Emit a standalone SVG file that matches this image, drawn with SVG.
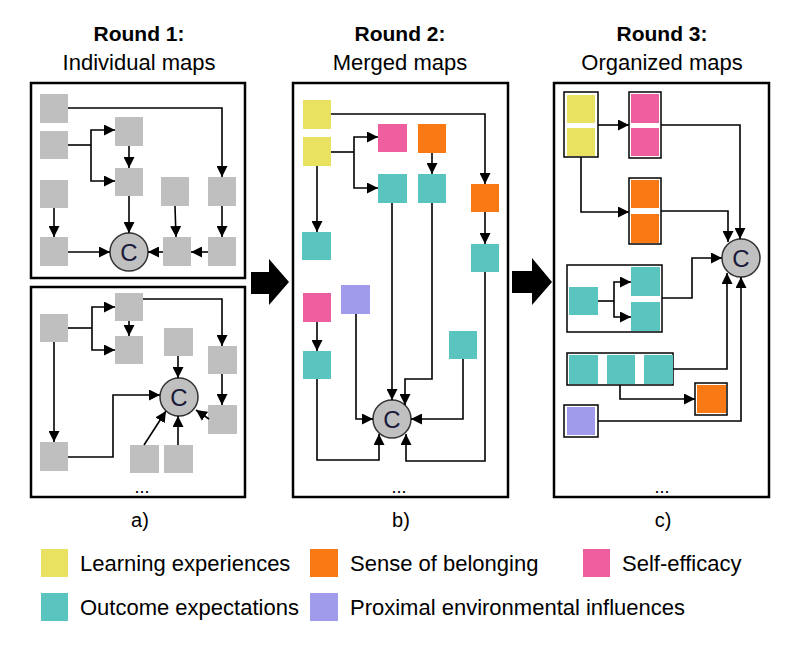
<svg xmlns="http://www.w3.org/2000/svg" width="805" height="647" viewBox="0 0 805 647">
<style>
text{font-family:"Liberation Sans",Arial,sans-serif;fill:#000}
.t1{font-size:21px;font-weight:bold;text-anchor:middle}
.t2{font-size:22px;text-anchor:middle}
.lg{font-size:22px}
.lab{font-size:20px;text-anchor:middle}
.dots{font-size:18px;text-anchor:middle}
.frame{fill:none;stroke:#000;stroke-width:2.5}
.g{fill:#bfbfbf}
.y{fill:#e9e160}
.o{fill:#f97a14}
.p{fill:#ef5e9e}
.tl{fill:#5ac4be}
.pu{fill:#a09bea}
.cont{fill:#fff;stroke:#000;stroke-width:1.5}
.cc{fill:#c0c0c0;stroke:#333;stroke-width:1.5}
.ct{font-size:24px;text-anchor:middle;fill:#1a1a3a}
.e{fill:none;stroke:#000;stroke-width:1.6}
.ea{fill:none;stroke:#000;stroke-width:1.6;marker-end:url(#ah)}
</style>
<defs>
<marker id="ah" viewBox="0 0 10 10" refX="10" refY="5" markerWidth="11" markerHeight="11" markerUnits="userSpaceOnUse" orient="auto"><path d="M0,0 L10,5 L0,10 z" fill="#000"/></marker>
</defs>

<g id="titles">
<text class="t1" x="139" y="41">Round 1:</text>
<text class="t2" x="139" y="70">Individual maps</text>
<text class="t1" x="400" y="41">Round 2:</text>
<text class="t2" x="400" y="70">Merged maps</text>
<text class="t1" x="662" y="41">Round 3:</text>
<text class="t2" x="662" y="70">Organized maps</text>
</g>

<g id="frames">
<rect class="frame" x="31" y="83" width="214" height="195"/>
<rect class="frame" x="31" y="287" width="214" height="210"/>
<rect class="frame" x="293" y="83" width="215" height="414"/>
<rect class="frame" x="554" y="83" width="215" height="414"/>
<text class="dots" x="142" y="493">...</text>
<text class="dots" x="399" y="493">...</text>
<text class="dots" x="662" y="493">...</text>
<text class="lab" x="140" y="527">a)</text>
<text class="lab" x="401" y="527">b)</text>
<text class="lab" x="663" y="527">c)</text>
</g>

<g id="big-arrows">
<polygon points="251,272 269,272 269,259 289,282 269,305 269,294 251,294" fill="#000"/>
<polygon points="512,271 532,271 532,258 552,282 532,305 532,293 512,293" fill="#000"/>
</g>

<g id="a1-nodes">
<rect id="a1A" class="g" x="40" y="94" width="28" height="29"/>
<rect id="a1B" class="g" x="40" y="131" width="28" height="28"/>
<rect id="a1C" class="g" x="115" y="117" width="28" height="29"/>
<rect id="a1D" class="g" x="115" y="168" width="28" height="28"/>
<rect id="a1E" class="g" x="40" y="180" width="28" height="28"/>
<rect id="a1F" class="g" x="161" y="177" width="28" height="29"/>
<rect id="a1G" class="g" x="208" y="177" width="28" height="29"/>
<rect id="a1H" class="g" x="40" y="237" width="28" height="29"/>
<rect id="a1I" class="g" x="163" y="237" width="28" height="29"/>
<rect id="a1J" class="g" x="208" y="237" width="28" height="29"/>
<g id="a1-core"><circle class="cc" cx="129" cy="252" r="19"/><text class="ct" x="129" y="261">C</text></g>
</g>

<g id="a2-nodes">
<rect id="a2K" class="g" x="115" y="293" width="28" height="28"/>
<rect id="a2L" class="g" x="40" y="314" width="28" height="28"/>
<rect id="a2M" class="g" x="115" y="336" width="28" height="28"/>
<rect id="a2N" class="g" x="164" y="328" width="29" height="28"/>
<rect id="a2O" class="g" x="208" y="346" width="29" height="28"/>
<rect id="a2P" class="g" x="208" y="405" width="29" height="29"/>
<rect id="a2Q" class="g" x="40" y="442" width="28" height="29"/>
<rect id="a2R" class="g" x="130" y="445" width="29" height="28"/>
<rect id="a2S" class="g" x="164" y="445" width="29" height="28"/>
<g id="a2-core"><circle class="cc" cx="179" cy="397" r="19"/><text class="ct" x="179" y="406">C</text></g>
</g>

<g id="b-nodes">
<rect id="bY1" class="y" x="303" y="100" width="28" height="29"/>
<rect id="bY2" class="y" x="303" y="137" width="28" height="29"/>
<rect id="bP1" class="p" x="378" y="124" width="29" height="28"/>
<rect id="bO1" class="o" x="418" y="124" width="28" height="29"/>
<rect id="bT1" class="tl" x="378" y="174" width="29" height="29"/>
<rect id="bT2" class="tl" x="418" y="174" width="28" height="29"/>
<rect id="bO2" class="o" x="471" y="184" width="28" height="28"/>
<rect id="bT3" class="tl" x="302" y="232" width="29" height="28"/>
<rect id="bT4" class="tl" x="471" y="244" width="28" height="28"/>
<rect id="bPu" class="pu" x="341" y="285" width="29" height="29"/>
<rect id="bP2" class="p" x="303" y="293" width="28" height="29"/>
<rect id="bT5" class="tl" x="303" y="351" width="28" height="28"/>
<rect id="bT6" class="tl" x="449" y="331" width="28" height="28"/>
<g id="b-core"><circle class="cc" cx="392" cy="419" r="19"/><text class="ct" x="392" y="428">C</text></g>
</g>

<g id="c-nodes">
<g id="cY"><rect class="cont" x="564" y="92" width="34" height="65"/><rect class="y" x="567" y="95" width="28" height="28"/><rect class="y" x="567" y="128" width="28" height="28"/></g>
<g id="cP"><rect class="cont" x="629" y="92" width="32" height="66"/><rect class="p" x="631" y="94" width="28" height="29"/><rect class="p" x="631" y="128" width="28" height="28"/></g>
<g id="cO"><rect class="cont" x="629" y="178" width="32" height="66"/><rect class="o" x="631" y="180" width="28" height="28"/><rect class="o" x="631" y="214" width="28" height="29"/></g>
<g id="cTG"><rect class="cont" x="567" y="265" width="95" height="67"/><rect class="tl" x="569" y="287" width="29" height="28"/><rect class="tl" x="631" y="267" width="29" height="29"/><rect class="tl" x="631" y="302" width="29" height="29"/></g>
<g id="cTR"><rect class="cont" x="567" y="353" width="106" height="32"/><rect class="tl" x="569" y="355" width="29" height="29"/><rect class="tl" x="607" y="355" width="28" height="29"/><rect class="tl" x="644" y="355" width="29" height="29"/></g>
<g id="cOB"><rect class="cont" x="695" y="383" width="32" height="32"/><rect class="o" x="697" y="385" width="29" height="28"/></g>
<g id="cPu"><rect class="cont" x="564" y="405" width="34" height="32"/><rect class="pu" x="567" y="407" width="28" height="28"/></g>
<g id="c-core"><circle class="cc" cx="741" cy="258" r="19"/><text class="ct" x="741" y="267">C</text></g>
</g>

<g id="connectors">
<path class="ea" d="M68,108 H222 V177"/>
<path class="e" d="M68,145 H91"/>
<path class="ea" d="M91,145 V130 H115"/>
<path class="ea" d="M91,145 V181 H115"/>
<path class="ea" d="M129,146 V168"/>
<path class="ea" d="M129,196 V233"/>
<path class="ea" d="M54,208 V237"/>
<path class="ea" d="M68,252 H110"/>
<path class="ea" d="M175,206 L176,237"/>
<path class="ea" d="M222,206 V237"/>
<path class="ea" d="M208,252 H191"/>
<path class="ea" d="M163,252 H148"/>
<path class="e" d="M68,328 H92"/>
<path class="ea" d="M92,328 V307 H115"/>
<path class="ea" d="M92,328 V350 H115"/>
<path class="ea" d="M129,321 V336"/>
<path class="ea" d="M143,299 H222 V346"/>
<path class="ea" d="M222,374 V405"/>
<path class="ea" d="M178,356 V378"/>
<path class="ea" d="M54,342 V442"/>
<path class="ea" d="M68,457 H113 V395 H160"/>
<path class="ea" d="M144,445 L166,411"/>
<path class="ea" d="M178,445 V416"/>
<path class="ea" d="M209,419 L196,410"/>
<path class="ea" d="M331,114 H485 V184"/>
<path class="e" d="M331,152 H354"/>
<path class="ea" d="M354,152 V137 H378"/>
<path class="ea" d="M354,152 V188 H378"/>
<path class="ea" d="M432,153 V174"/>
<path class="ea" d="M317,166 V232"/>
<path class="ea" d="M485,212 V244"/>
<path class="ea" d="M392,203 V400"/>
<path class="ea" d="M432,203 V379 H405 V405"/>
<path class="ea" d="M356,314 V419 H373"/>
<path class="ea" d="M463,359 V419 H411"/>
<path class="ea" d="M317,379 V460 H379 V434"/>
<path class="ea" d="M485,272 V461 H406 V434"/>
<path class="ea" d="M317,322 V351"/>
<path class="ea" d="M598,125 H629"/>
<path class="ea" d="M581,157 V212 H629"/>
<path class="ea" d="M661,125 H740 V239"/>
<path class="ea" d="M661,211 H728 V242"/>
<path class="ea" d="M662,298 H692 V258 H722"/>
<path class="e" d="M598,301 H614"/>
<path class="ea" d="M614,301 V282 H631"/>
<path class="ea" d="M614,301 V317 H631"/>
<path class="ea" d="M673,369 H727 V273"/>
<path class="ea" d="M620,385 V399 H695"/>
<path class="ea" d="M598,421 H741 V277"/>
</g>

<g id="legend">
<rect class="y" x="41" y="549" width="27" height="28"/>
<text class="lg" x="80" y="571">Learning experiences</text>
<rect class="o" x="310" y="549" width="28" height="28"/>
<text class="lg" x="350" y="571">Sense of belonging</text>
<rect class="p" x="583" y="549" width="27" height="28"/>
<text class="lg" x="622" y="571">Self-efficacy</text>
<rect class="tl" x="41" y="593" width="27" height="28"/>
<text class="lg" x="80" y="615">Outcome expectations</text>
<rect class="pu" x="310" y="593" width="28" height="28"/>
<text class="lg" x="350" y="615">Proximal environmental influences</text>
</g>
</svg>
